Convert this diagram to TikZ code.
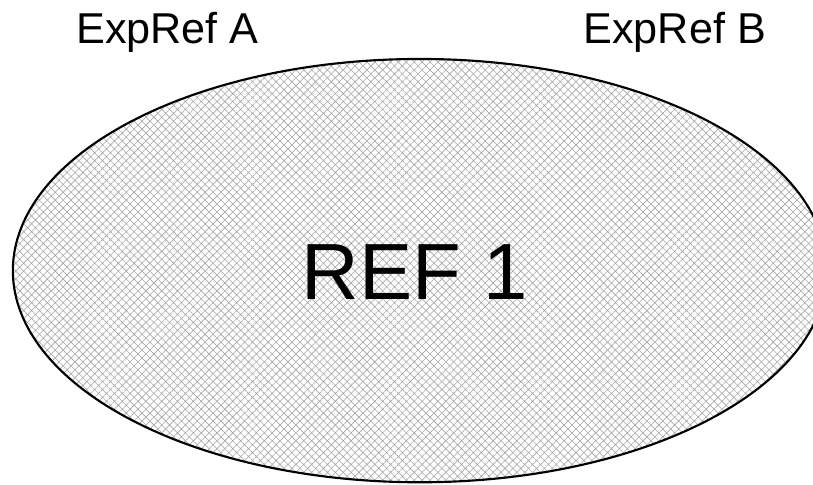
\documentclass[tikz,border=0pt]{standalone}
\usepackage{fontspec}
\setmainfont{Liberation Sans}
\usetikzlibrary{patterns.meta}
\tikzset{
  hatched/.style={draw=black,line width=1.6pt,
    pattern={Hatch[angle=45,distance=4.2pt,line width=0.45pt]},pattern color=gray!70},
  setlabel/.style={anchor=base,inner sep=0pt,font=\fontsize{32.5}{36}\selectfont},
  biglabel/.style={anchor=base,inner sep=0pt,font=\fontsize{60}{66}\selectfont}
}
\begin{document}
\begin{tikzpicture}
 \useasboundingbox (0,0) rectangle (21.51,12.81);
 \clip (0,0) rectangle (21.51,12.81);
 \draw[hatched] (11.11,5.65) ellipse [x radius=10.77, y radius=5.60];
 \node[biglabel] (ref) at (10.97,4.89) {REF 1};
 \node[setlabel] (expa) at (4.43,11.67) {ExpRef A};
 \node[setlabel] (expb) at (17.85,11.67) {ExpRef B};
\end{tikzpicture}
\end{document}
